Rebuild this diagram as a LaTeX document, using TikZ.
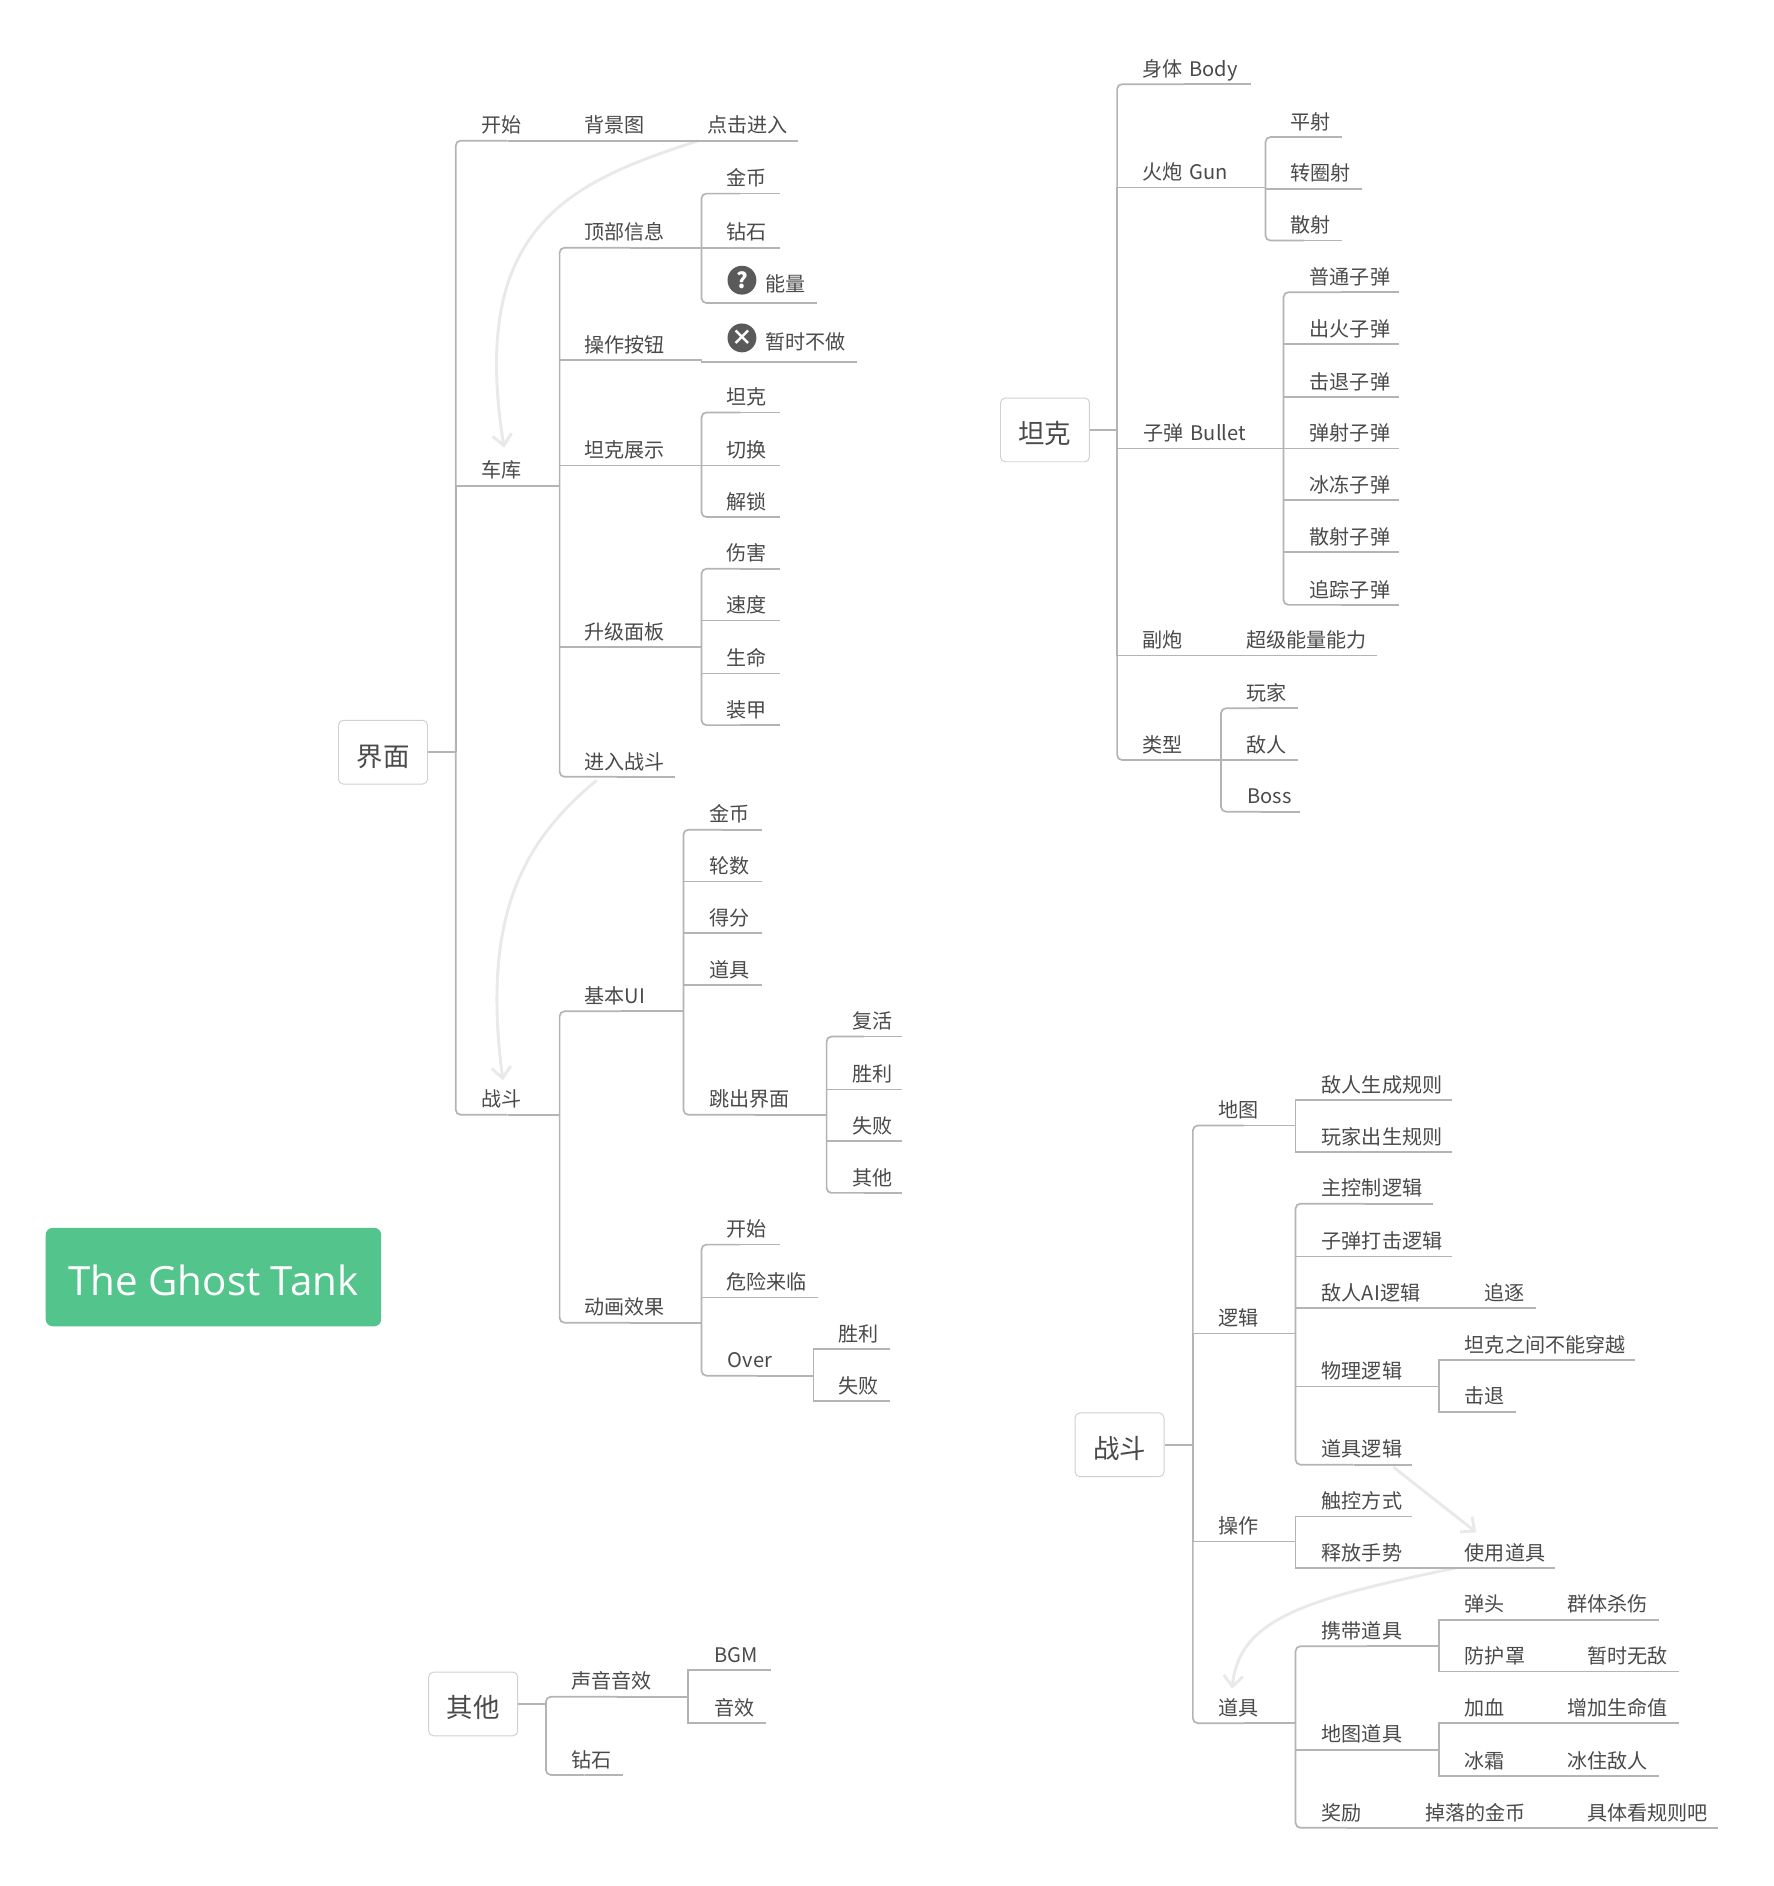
\documentclass[tikz,border=0pt]{standalone}
\usepackage{fontspec}
\setmainfont{Noto Sans CJK SC}
\newfontfamily\ttlfont{Open Sans}
\usetikzlibrary{calc,arrows.meta}
\pgfdeclarelayer{bgl}\pgfsetlayers{bgl,main}
\definecolor{linec}{HTML}{B4B4B4}
\definecolor{txtc}{HTML}{4A4A4A}
\definecolor{arrc}{HTML}{E8E9EB}
\definecolor{boxc}{HTML}{D0D0D0}
\definecolor{grn}{HTML}{52C48C}
\definecolor{icoc}{HTML}{5A5A5A}
\tikzset{
 topic/.style={inner sep=0pt,text depth=6.3pt,text height=16pt,align=left,text=txtc,font=\fontsize{16.7pt}{18pt}\selectfont},
 conn/.style={draw=linec,line width=1.4pt},
 roundc/.style={conn,rounded corners=4pt},
 rootbox/.style={draw=boxc,line width=.8pt,rounded corners=4pt,fill=white,minimum width=74pt,minimum height=53pt,inner sep=0pt,text height=23pt,text depth=0pt,text=txtc,font=\fontsize{22pt}{26pt}\selectfont},
 titlebox/.style={fill=grn,rounded corners=6pt,minimum width=279pt,minimum height=82pt,inner sep=0pt,text height=30pt,text depth=0pt,text=white,font=\ttlfont\fontsize{33.5pt}{36pt}\selectfont},
 icon/.style={circle,fill=icoc,minimum size=24pt,inner sep=0pt,text=white,font=\bfseries\fontsize{18pt}{18pt}\selectfont},
 relarrow/.style={draw=arrc,line width=2.4pt,-{Straight Barb[length=9pt,width=16pt]}}
}
% name, x1, x2, y of line, x of text, text
\newcommand{\tpc}[6]{%
 \pgfmathsetmacro{\tw}{#3-#2}\pgfmathsetmacro{\ti}{#5-#2}%
 \node[topic,text width=\tw pt,anchor=south west] (#1) at (#2,#4) {\hspace*{\ti pt}#6};
 \draw[conn] (#1.south) -- (#1.south east);}
\newcommand{\cn}[2]{\draw[roundc] (#1.south east) |- (#2.south);}
\newcommand{\cm}[2]{\draw[conn] (#1.south east) |- (#2.south);}
\newcommand{\rcn}[2]{\draw[conn] (#1.east) -- (#1.east -| #2.south west); \draw[roundc] (#1.east -| #2.south west) |- (#2.south);}
\newcommand{\rcm}[2]{\draw[conn] (#1.east -| #2.south west) |- (#2.south);}
\begin{document}
\begin{tikzpicture}[x=1pt,y=-1pt]
\useasboundingbox (0,0) rectangle (1474.5,1568.4);
\begin{pgfonlayer}{bgl}\fill[white] (0,0) rectangle (1474.5,1568.4);\end{pgfonlayer}
\node[titlebox] (title) at (177.5,1062) {The Ghost Tank};
% ---- 界面
\node[rootbox] (ui) at (318.5,625.5) {界面};
\tpc{start}{379}{465}{117}{400}{开始}
\tpc{bgimg}{465}{568}{117}{486}{背景图}
\tpc{click}{568}{663}{117}{588}{点击进入}
\tpc{garage}{379}{465}{404}{400}{车库}
\tpc{topinfo}{465}{583}{206}{486}{顶部信息}
\tpc{gold}{583}{648}{161}{604}{金币}
\tpc{gem}{583}{648}{206}{604}{钻石}
\tpc{energy}{583}{679}{252}{636}{\raisebox{3.5pt}{能量}}
\node[icon] (qicon) at (617,233) {?};
\tpc{opbtn}{465}{583}{299.5}{486}{操作按钮}
\tpc{notnow}{583}{712}{301}{636}{\raisebox{4pt}{暂时不做}}
\node[icon] (xicon) at (617,281) {×};
\tpc{tankshow}{465}{583}{387}{486}{坦克展示}
\tpc{stank}{583}{648}{343}{604}{坦克}
\tpc{sswitch}{583}{648}{387}{604}{切换}
\tpc{sunlock}{583}{648}{430}{604}{解锁}
\tpc{upgrade}{465}{583}{538}{486}{升级面板}
\tpc{dmg}{583}{648}{473}{604}{伤害}
\tpc{spd}{583}{648}{516}{604}{速度}
\tpc{hp}{583}{648}{560}{604}{生命}
\tpc{armor}{583}{648}{603}{604}{装甲}
\tpc{enter}{465}{561}{646}{486}{进入战斗}
\tpc{battle}{379}{465}{927}{400}{战斗}
\tpc{baseui}{465}{568}{841}{486}{基本UI}
\tpc{bgold}{568}{633}{690}{590}{金币}
\tpc{round}{568}{633}{733}{590}{轮数}
\tpc{score}{568}{633}{776}{590}{得分}
\tpc{bitem}{568}{633}{819}{590}{道具}
\tpc{popup}{568}{687}{927}{590}{跳出界面}
\tpc{revive}{687}{750}{862}{709}{复活}
\tpc{win}{687}{750}{906}{709}{胜利}
\tpc{lose}{687}{750}{949}{709}{失败}
\tpc{other}{687}{750}{992}{709}{其他}
\tpc{anim}{465}{583}{1100}{486}{动画效果}
\tpc{astart}{583}{648}{1035}{604}{开始}
\tpc{danger}{583}{680}{1079}{604}{危险来临}
\tpc{over}{583}{676}{1144}{605}{Over}
\tpc{awin}{676}{740}{1122}{697}{胜利}
\tpc{alose}{676}{740}{1165}{697}{失败}
\rcn{ui}{start}\rcn{ui}{battle}\rcm{ui}{garage}
\cm{start}{bgimg}\cm{bgimg}{click}
\cn{garage}{topinfo}\cn{garage}{enter}\cm{garage}{opbtn}\cm{garage}{tankshow}\cm{garage}{upgrade}
\cn{topinfo}{gold}\cn{topinfo}{energy}\cm{topinfo}{gem}
\cm{opbtn}{notnow}
\cn{tankshow}{stank}\cn{tankshow}{sunlock}\cm{tankshow}{sswitch}
\cn{upgrade}{dmg}\cn{upgrade}{armor}\cm{upgrade}{spd}\cm{upgrade}{hp}
\cn{battle}{baseui}\cn{battle}{anim}
\cn{baseui}{bgold}\cn{baseui}{popup}\cm{baseui}{round}\cm{baseui}{score}\cm{baseui}{bitem}
\cn{popup}{revive}\cn{popup}{other}\cm{popup}{win}\cm{popup}{lose}
\cn{anim}{astart}\cn{anim}{over}\cm{anim}{danger}
\cm{over}{awin}\cm{over}{alose}
% ---- 坦克
\node[rootbox] (tank) at (869,357.5) {坦克};
\tpc{body}{929}{1040}{70}{950}{身体 Body}
\tpc{gun}{929}{1052}{156}{950}{火炮 Gun}
\tpc{flat}{1052}{1116}{114}{1073}{平射}
\tpc{spin}{1052}{1132}{157}{1073}{转圈射}
\tpc{spread}{1052}{1116}{200}{1073}{散射}
\tpc{bullet}{929}{1067}{373}{951}{子弹 Bullet}
\tpc{bua}{1067}{1163}{243}{1089}{普通子弹}
\tpc{bub}{1067}{1163}{286}{1089}{出火子弹}
\tpc{buc}{1067}{1163}{330}{1089}{击退子弹}
\tpc{bud}{1067}{1163}{373}{1089}{弹射子弹}
\tpc{bue}{1067}{1163}{416}{1089}{冰冻子弹}
\tpc{buf}{1067}{1163}{459}{1089}{散射子弹}
\tpc{bug}{1067}{1163}{503}{1089}{追踪子弹}
\tpc{second}{929}{1015}{545}{950}{副炮}
\tpc{power}{1015}{1145}{545}{1036}{超级能量能力}
\tpc{ttype}{929}{1015}{632}{950}{类型}
\tpc{player}{1015}{1079}{589}{1036}{玩家}
\tpc{enemy}{1015}{1079}{632}{1036}{敌人}
\tpc{boss}{1015}{1081}{675}{1037}{Boss}
\rcn{tank}{body}\rcn{tank}{ttype}\rcm{tank}{gun}\rcm{tank}{bullet}\rcm{tank}{second}
\cn{gun}{flat}\cn{gun}{spread}\cm{gun}{spin}
\cn{bullet}{bua}\cn{bullet}{bug}\cm{bullet}{bub}\cm{bullet}{buc}\cm{bullet}{bud}\cm{bullet}{bue}\cm{bullet}{buf}
\cm{second}{power}
\cn{ttype}{player}\cn{ttype}{boss}\cm{ttype}{enemy}
% ---- 战斗
\node[rootbox] (fight) at (931,1201.5) {战斗};
\tpc{fmap}{992}{1077}{936}{1013}{地图}
\tpc{espawn}{1077}{1207}{915}{1099}{敌人生成规则}
\tpc{pspawn}{1077}{1207}{958}{1099}{玩家出生规则}
\tpc{logic}{992}{1077}{1109}{1013}{逻辑}
\tpc{lmain}{1077}{1191}{1001}{1099}{主控制逻辑}
\tpc{lhit}{1077}{1207}{1045}{1099}{子弹打击逻辑}
\tpc{lai}{1077}{1213}{1088}{1099}{敌人AI逻辑}
\tpc{chase}{1213}{1277}{1088}{1234}{追逐}
\tpc{lphys}{1077}{1196}{1153}{1099}{物理逻辑}
\tpc{nopass}{1196}{1359}{1131}{1218}{坦克之间不能穿越}
\tpc{knock}{1196}{1260}{1174}{1218}{击退}
\tpc{litem}{1077}{1174}{1218}{1099}{道具逻辑}
\tpc{oper}{992}{1077}{1282}{1013}{操作}
\tpc{touch}{1077}{1174}{1261}{1099}{触控方式}
\tpc{gesture}{1077}{1196}{1304}{1099}{释放手势}
\tpc{useitem}{1196}{1293}{1304}{1218}{使用道具}
\tpc{items}{992}{1077}{1433}{1013}{道具}
\tpc{carry}{1077}{1196}{1369}{1099}{携带道具}
\tpc{warhead}{1196}{1282}{1347}{1218}{弹头}
\tpc{aoe}{1282}{1379}{1347}{1303}{群体杀伤}
\tpc{shield}{1196}{1299}{1390}{1218}{防护罩}
\tpc{invinc}{1299}{1396}{1390}{1320}{暂时无敌}
\tpc{mapitem}{1077}{1196}{1455}{1099}{地图道具}
\tpc{blood}{1196}{1282}{1433}{1218}{加血}
\tpc{addhp}{1282}{1396}{1433}{1303}{增加生命值}
\tpc{frost}{1196}{1282}{1477}{1218}{冰霜}
\tpc{freeze}{1282}{1379}{1477}{1303}{冰住敌人}
\tpc{reward}{1077}{1163}{1520}{1099}{奖励}
\tpc{dropgold}{1163}{1299}{1520}{1185}{掉落的金币}
\tpc{rules}{1299}{1428}{1520}{1320}{具体看规则吧}
\rcn{fight}{fmap}\rcn{fight}{items}\rcm{fight}{logic}\rcm{fight}{oper}
\cm{fmap}{espawn}\cm{fmap}{pspawn}
\cn{logic}{lmain}\cn{logic}{litem}\cm{logic}{lhit}\cm{logic}{lai}\cm{logic}{lphys}
\cm{lai}{chase}\cm{lphys}{nopass}\cm{lphys}{knock}
\cm{oper}{touch}\cm{oper}{gesture}\cm{gesture}{useitem}
\cn{items}{carry}\cn{items}{reward}\cm{items}{mapitem}
\cm{carry}{warhead}\cm{carry}{shield}\cm{warhead}{aoe}\cm{shield}{invinc}
\cm{mapitem}{blood}\cm{mapitem}{frost}\cm{blood}{addhp}\cm{frost}{freeze}
\cm{reward}{dropgold}\cm{dropgold}{rules}
% ---- 其他
\node[rootbox] (misc) at (393.5,1417) {其他};
\tpc{sound}{454}{572}{1411}{475}{声音音效}
\tpc{bgm}{572}{641}{1389}{594}{BGM}
\tpc{sfx}{572}{637}{1433}{594}{音效}
\tpc{mgem}{454}{518}{1476}{475}{钻石}
\rcn{misc}{sound}\rcn{misc}{mgem}
\cm{sound}{bgm}\cm{sound}{sfx}
% ---- relations
\begin{pgfonlayer}{bgl}
\draw[relarrow] ($(click.south west)+(13,0)$) .. controls +(-110,35) and (390,190) .. ($(garage.north)+(-3,-9)$);
\draw[relarrow] ($(enter.south west)+(31,3)$) .. controls +(-60,50) and (400,760) .. ($(battle.north)+(-4,-6)$);
\draw[relarrow] ($(litem.south)+(33,2)$) -- ($(useitem.north)+(-17,-7)$);
\draw[relarrow] ($(useitem.south west)+(14,0)$) .. controls +(-120,25) and (1030,1345) .. ($(items.north)+(-10,-6)$);
\end{pgfonlayer}
\end{tikzpicture}
\end{document}
